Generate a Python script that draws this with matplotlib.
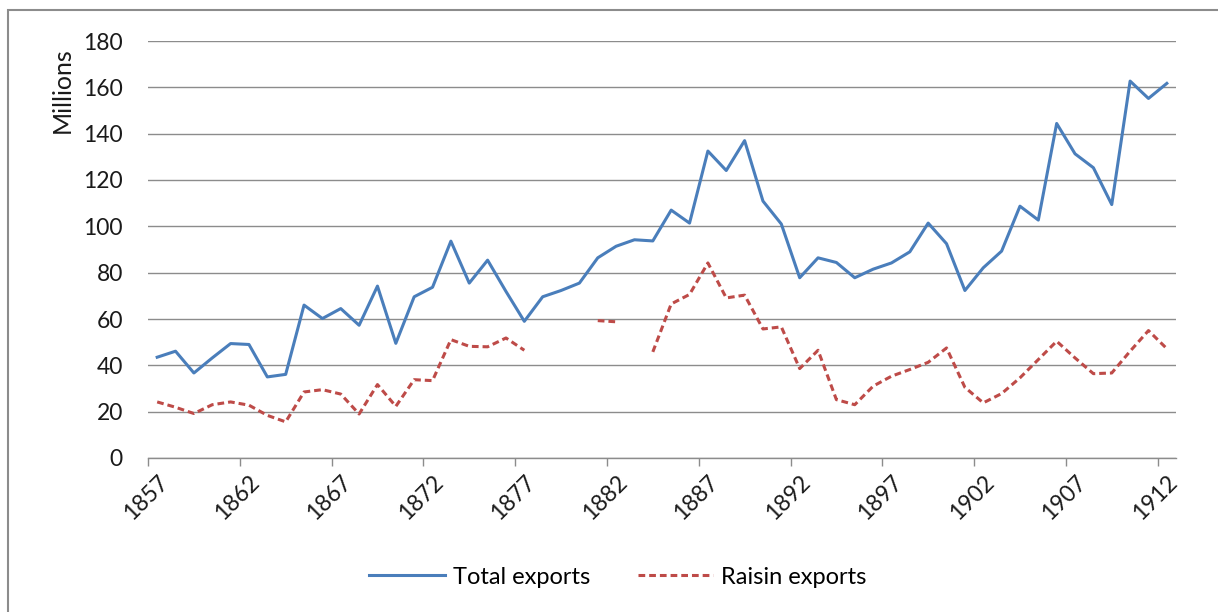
import numpy as np
import matplotlib
matplotlib.use('Agg')
import matplotlib.pyplot as plt
from matplotlib.patches import Rectangle

years = list(range(1857, 1913))

total_exports = [43.5, 46.1, 36.7, 43.2, 49.4, 49.0, 35.0, 36.1, 66.0, 60.2,
                 64.5, 57.3, 74.2, 49.5, 69.6, 73.7, 93.6, 75.5, 85.4, 71.9,
                 59.0, 69.6, 72.3, 75.5, 86.4, 91.4, 94.2, 93.7, 107.0, 101.4,
                 132.5, 124.1, 137.0, 110.9, 101.0, 77.8, 86.4, 84.4, 77.8, 81.5,
                 84.2, 89.0, 101.4, 92.5, 72.3, 82.1, 89.3, 108.7, 102.7, 144.4,
                 131.3, 125.3, 109.4, 162.7, 155.2, 161.7]

# None = no data for that year (gaps in the series)
raisin_exports = [24.2, 21.9, 19.2, 23.0, 24.2, 22.8, 18.4, 15.6, 28.5, 29.5,
                  27.6, 19.0, 31.7, 22.3, 33.8, 33.4, 51.1, 48.2, 48.0, 51.8,
                  46.5, None, None, None, 59.3, 58.8, None, 45.8, 66.5, 70.6,
                  84.2, 69.1, 70.3, 55.7, 56.6, 38.6, 46.5, 25.2, 23.0, 31.0,
                  35.3, 38.2, 41.3, 47.5, 30.5, 23.8, 27.8, 34.6, 42.5, 50.4,
                  43.2, 36.4, 36.7, 46.1, 55.0, 47.2]

y_ticks = list(range(0, 181, 20))
label_years = years[::5]

blue = '#4a7ebb'
red = '#be4b48'
grid_gray = '#8c8c8c'

plt.rcParams['font.family'] = ['Lato', 'DejaVu Sans']

fig = plt.figure(figsize=(12.18, 6.12), dpi=100)
fig.patches.append(Rectangle((8 / 1218, -0.1), 1.2, 1.1 - 10 / 612,
                             transform=fig.transFigure, fill=False,
                             edgecolor='#8c8c8c', linewidth=1.5))

ax = fig.add_axes([148 / 1218, 1 - 458 / 612, 1028 / 1218, 417 / 612])

raisin = np.array([np.nan if v is None else v for v in raisin_exports])
ax.plot(years, total_exports, color=blue, linewidth=2.2, label='Total exports')
ax.plot(years, raisin, color=red, linewidth=2.2, linestyle=(0, (2.2, 1.3)),
        label='Raisin exports')

ax.set_xlim(years[0] - 0.5, years[-1] + 0.5)
ax.set_ylim(0, 180)
ax.set_yticks(y_ticks)
ax.tick_params(axis='y', length=0, labelsize=16.5, pad=18, labelcolor='#1a1a1a')
ax.yaxis.grid(True, color=grid_gray, linewidth=1)
ax.set_axisbelow(True)

# tick marks sit on category boundaries, labels on category centres
ax.set_xticks([y - 0.5 for y in label_years])
ax.set_xticklabels([])
ax.tick_params(axis='x', which='major', length=6, color=grid_gray, width=1)
ax.set_xticks(label_years, minor=True)
ax.set_xticklabels([str(y) for y in label_years], minor=True, rotation=45,
                   ha='right', va='top', rotation_mode='anchor', fontsize=16.5,
                   color='#1a1a1a')
ax.tick_params(axis='x', which='minor', length=0, pad=10)

for s in ['top', 'right', 'left']:
    ax.spines[s].set_visible(False)
ax.spines['bottom'].set_color(grid_gray)
ax.spines['bottom'].set_linewidth(1)

fig.text(62 / 1218, 1 - 90 / 612, 'Millions', rotation=90, fontsize=18,
         ha='center', va='center', color='#1a1a1a')

fig.legend(loc='center', bbox_to_anchor=(618 / 1218, 1 - 577 / 612), ncol=2,
           frameon=False, fontsize=17, handlelength=3.2, columnspacing=2.0,
           handletextpad=0.35)

fig.savefig('out.png', dpi=100)
